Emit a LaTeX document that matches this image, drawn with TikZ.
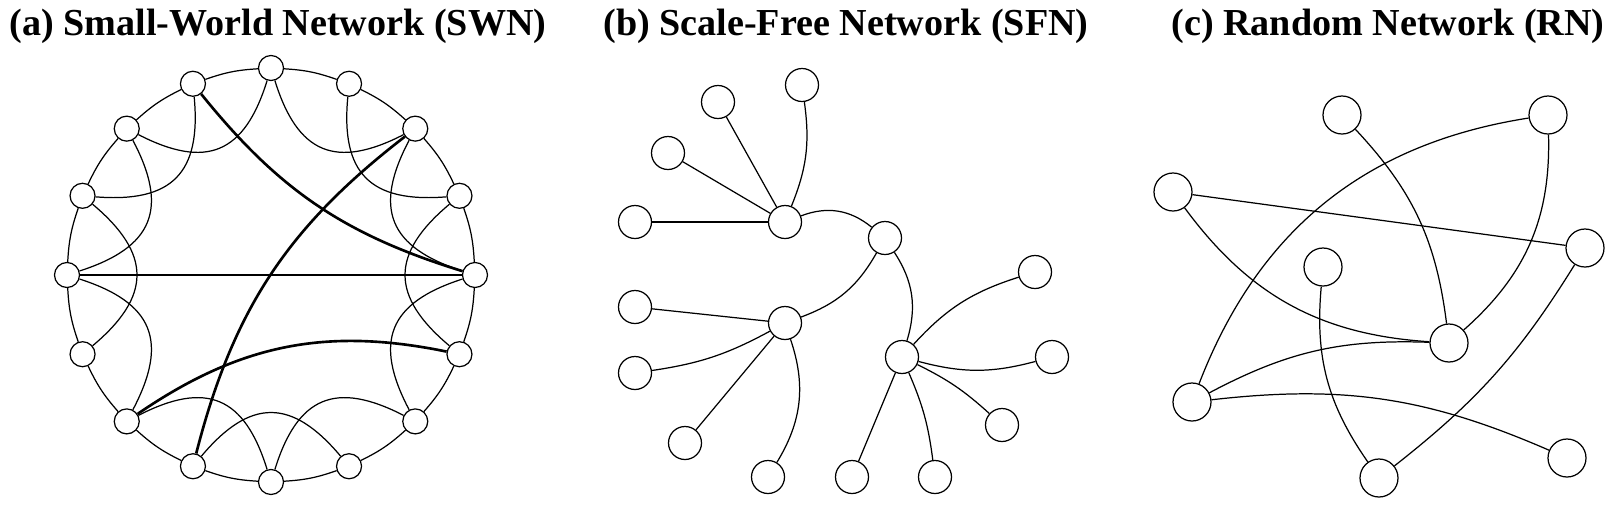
\documentclass[tikz,border=0pt]{standalone}
\usepackage{fontspec}
\setmainfont{Liberation Serif}
\usetikzlibrary{positioning}

\begin{document}
\begin{tikzpicture}[
    x=0.2mm, y=-0.2mm,
    vertex/.style={
        circle,
        draw,
        fill=white,
        inner sep=0pt,
        line width=0.7pt,
        minimum size=#1
    },
    vertex/.default=5mm,
    link/.style={line width=0.7pt},
    shortcut/.style={line width=1.5pt},
    panel title/.style={
        font=\fontsize{21.7}{26}\selectfont\bfseries,
        anchor=base
    }
]
\useasboundingbox (0,0) rectangle (1614,514);

% Panel titles
\node[panel title] (title-swn) at (278,35)  {(a) Small-World Network (SWN)};
\node[panel title] (title-sfn) at (846,35)  {(b) Scale-Free Network (SFN)};
\node[panel title] (title-rn)  at (1388,35) {(c) Random Network (RN)};

% (a) ring of 16 nodes
\foreach \i in {0,...,15}
    \node[vertex] (a\i) at ({271+204*sin(22.5*\i)}, {275-207*cos(22.5*\i)}) {};

% ring neighbours
\foreach \i in {0,...,15}{
    \pgfmathtruncatemacro\j{mod(\i+1,16)}
    \draw[link] (a\i) to[bend left=8] (a\j);
}
% second neighbours
\foreach \i/\j in {0/2,1/3,2/4,3/5,4/6,6/8,7/9,8/10,10/12,11/13,12/14,13/15,14/0}
    \draw[link] (a\i) to[bend right=50, looseness=1.4] (a\j);

% rewired shortcuts
\draw[shortcut] (a15) to[bend right=17] (a4);
\draw[shortcut] (a2) to[bend right=19] (a9);
\draw[shortcut] (a10) to[bend left=23] (a5);
\draw[shortcut] (a12) -- (a4);

% (b) hubs
\node[vertex=6.6mm] (hubA) at (785,222) {};
\node[vertex=6.6mm] (hubB) at (885,238) {};
\node[vertex=6.6mm] (hubC) at (785,323) {};
\node[vertex=6.6mm] (hubD) at (902,357) {};

% (b) leaves
\node[vertex=6.6mm] (leafA1) at (635,222) {};
\node[vertex=6.6mm] (leafA2) at (668,153) {};
\node[vertex=6.6mm] (leafA3) at (718,102) {};
\node[vertex=6.6mm] (leafA4) at (802,85)  {};
\node[vertex=6.6mm] (leafC1) at (635,307) {};
\node[vertex=6.6mm] (leafC2) at (635,373) {};
\node[vertex=6.6mm] (leafC3) at (685,443) {};
\node[vertex=6.6mm] (leafC4) at (768,477) {};
\node[vertex=6.6mm] (leafD1) at (852,477) {};
\node[vertex=6.6mm] (leafD2) at (935,477) {};
\node[vertex=6.6mm] (leafD3) at (1002,425) {};
\node[vertex=6.6mm] (leafD4) at (1052,357) {};
\node[vertex=6.6mm] (leafD5) at (1035,272) {};

% (b) edges
\draw[link] (hubA) to[bend left=30] (hubB);
\draw[link] (hubB) to[bend left=20] (hubC);
\draw[link] (hubB) to[bend left=25] (hubD);
\draw[link] (hubA) -- (leafA1);
\draw[link] (hubA) -- (leafA2);
\draw[link] (hubA) -- (leafA3);
\draw[link] (hubA) to[bend right=15] (leafA4);
\draw[link] (hubC) -- (leafC1);
\draw[link] (hubC) to[bend left=10] (leafC2);
\draw[link] (hubC) -- (leafC3);
\draw[link] (hubC) to[bend left=25] (leafC4);
\draw[link] (hubD) -- (leafD1);
\draw[link] (hubD) to[bend left=8] (leafD2);
\draw[link] (hubD) to[bend left=8] (leafD3);
\draw[link] (hubD) to[bend right=15] (leafD4);
\draw[link] (hubD) to[bend left=15] (leafD5);

% (c) nodes
\node[vertex=7.6mm] (rn1) at (1342,115) {};
\node[vertex=7.6mm] (rn2) at (1548,115) {};
\node[vertex=7.6mm] (rn3) at (1173,192) {};
\node[vertex=7.6mm] (rn4) at (1585,248) {};
\node[vertex=7.6mm] (rn5) at (1323,267) {};
\node[vertex=7.6mm] (rn6) at (1449,343) {};
\node[vertex=7.6mm] (rn7) at (1192,402) {};
\node[vertex=7.6mm] (rn8) at (1567,458) {};
\node[vertex=7.6mm] (rn9) at (1379,478) {};

% (c) edges
\draw[link] (rn1) to[bend left=18] (rn6);
\draw[link] (rn2) to[bend right=30] (rn7);
\draw[link] (rn2) to[bend left=25] (rn6);
\draw[link] (rn3) -- (rn4);
\draw[link] (rn3) to[bend right=25] (rn6);
\draw[link] (rn5) to[bend right=20] (rn9);
\draw[link] (rn4) to[bend left=10] (rn9);
\draw[link] (rn7) to[bend left=15] (rn6);
\draw[link] (rn7) to[bend left=15] (rn8);

\end{tikzpicture}
\end{document}
